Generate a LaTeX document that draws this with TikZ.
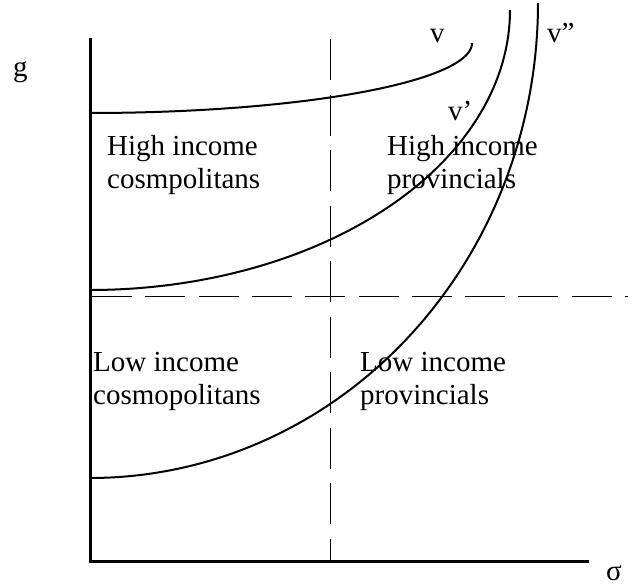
\documentclass[tikz,border=0pt]{standalone}
\usepackage{fontspec}
\setmainfont{Liberation Serif}
\begin{document}
\begin{tikzpicture}[x=1pt,y=-1pt,
  lbl/.style={inner sep=0pt,anchor=base west,align=left,font=\fontsize{29}{33}\selectfont},
  axis/.style={line width=3pt},
  curve/.style={line width=2pt},
  vdash/.style={line width=1pt,dash pattern=on 41pt off 14.5pt},
  hdash/.style={line width=1pt,dash pattern=on 40pt off 13.3pt}]
\useasboundingbox (0,0) rectangle (628,586);
% axes
\coordinate (O) at (90,561);
\coordinate (Ytop) at (90,38);
\coordinate (Xend) at (589,561);
\draw[axis] (Ytop) -- (O) -- (Xend);
% dashed lines
\coordinate (Vt) at (330,39);
\coordinate (Vb) at (330,561);
\draw[vdash] (Vt) -- (Vb);
\coordinate (Hl) at (92,296);
\coordinate (Hr) at (628,296);
\draw[hdash] (Hl) -- (Hr);
% curves (elliptic quadrants)
\draw[curve] plot[domain=90:0,samples=90,smooth] ({90+382*cos(\x)},{43+70*sin(\x)});
\draw[curve] plot[domain=90:0,samples=90,smooth] ({90+420*cos(\x)},{10+280*sin(\x)});
\draw[curve] plot[domain=90:0,samples=90,smooth] ({90+448*cos(\x)},{3+475*sin(\x)});
% labels
\node[lbl] (hc) at (107,188) {High income\\cosmpolitans};
\node[lbl] (hp) at (387,188) {High income\\provincials};
\node[lbl] (lc) at (93,404) {Low income\\cosmopolitans};
\node[lbl] (lp) at (360,404) {Low income\\provincials};
\node[lbl] (v1) at (430,42) {v};
\node[lbl] (v2) at (448,120) {v'};
\node[lbl] (v3) at (547,43) {v''};
\node[lbl] (g) at (13,76) {g};
\node[lbl] (s) at (606,580) {σ};
\end{tikzpicture}
\end{document}
